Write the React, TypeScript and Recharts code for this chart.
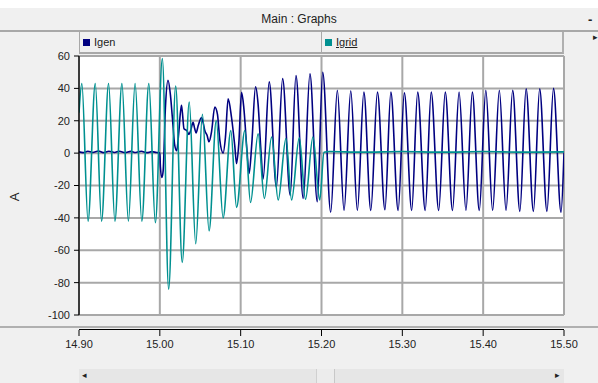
import React from 'react';
import { LineChart, Line, XAxis, YAxis, CartesianGrid } from 'recharts';

const TITLE = 'Main : Graphs';
const SERIES_NAMES = ['Igen', 'Igrid'];
const SERIES_COLORS = ['#000080', '#009090'];
const Y_LABEL = 'A';
const X_TICKS = [14.9, 15.0, 15.1, 15.2, 15.3, 15.4, 15.5];
const Y_TICKS = [-100, -80, -60, -40, -20, 0, 20, 40, 60];

const IGEN_T = [
  14.9, 14.905, 14.911, 14.917, 14.924, 14.93, 14.937, 14.944, 14.95, 14.957, 14.964, 14.97, 14.977, 14.984, 14.99, 14.996,
  15.0, 15.0007, 15.0026, 15.0041, 15.0069, 15.0101, 15.0131, 15.0155, 15.0184, 15.0209, 15.0233, 15.0267, 15.0279, 15.0299,
  15.0333, 15.0361, 15.0382, 15.0411, 15.0432, 15.0448, 15.0475, 15.0515, 15.0535, 15.0556, 15.0584, 15.0609, 15.0639,
  15.068, 15.0713, 15.0742, 15.0783, 15.0812, 15.0845, 15.0887, 15.0928, 15.0949, 15.0977, 15.1011, 15.1039, 15.1076,
  15.1105, 15.1138, 15.1184, 15.1216, 15.125, 15.1278, 15.1353, 15.1442, 15.1519, 15.1613, 15.1684, 15.1774, 15.1857,
  15.1948, 15.2015, 15.2114, 15.2196, 15.2279, 15.2362, 15.2444, 15.2524, 15.261, 15.2692, 15.2785, 15.2858, 15.2948,
  15.3025, 15.3116, 15.319, 15.3283, 15.3357, 15.345, 15.3531, 15.3621, 15.3702, 15.3787, 15.3866, 15.3952, 15.4033,
  15.4117, 15.42, 15.4283, 15.4365, 15.4454, 15.4531, 15.4622, 15.4699, 15.4789, 15.487, 15.4963, 15.5,
];
const IGEN_V = [
  0.8, 0.3, 1.2, 0.4, 1.3, 0.3, 1.2, 0.4, 1.2, 0.3, 1.1, 0.4, 1.2, 0.3, 0.9, 0.4,
  0.2, -8.5, -15, -11, 28, 45, 36, 22, 5, 1.5, 12, 29.5, 25, 15,
  14, 11.5, 14, 19, 15, 12.5, 17, 22, 19, 14, 11, 7, 13,
  28.5, 24, 8, 0, 10, 33.5, 22, 4, -6.5, 6, 37.5, 28, 3,
  -12.5, 6, 41, 30, 2, -16, 44, -21, 46, -26, 48, -28, 49,
  -30, 50, -36.5, 38.8, -35.4, 38.5, -35.4, 37.7, -35.4, 37.7, -35.0, 37.7, -35.4,
  37.2, -35.4, 37.7, -35.4, 37.7, -35.4, 37.7, -35.4, 37.7, -35.4, 37.7, -35.4, 38.8,
  -35.4, 38.8, -35.4, 38.8, -36.0, 39.8, -36.0, 39.8, -36.0, 40.0, -36.5, 0.5,
];

const IGRID_T = [
  14.9, 14.9035, 14.9112, 14.9201, 14.9279, 14.9366, 14.9444, 14.9531, 14.9611, 14.9694, 14.9777, 14.9864, 14.9945,
  15.0031, 15.0109, 15.0196, 15.0277, 15.0364, 15.0444, 15.0527, 15.0609, 15.0698, 15.0783, 15.0878, 15.0949, 15.1052,
  15.1122, 15.1216, 15.1293, 15.1383, 15.1464, 15.156, 15.163, 15.1725, 15.1802, 15.1894, 15.1978, 15.2031, 15.21,
  15.25, 15.3, 15.35, 15.4, 15.45, 15.5,
];
const IGRID_V = [
  25, 43, -42, 43, -42, 43, -42, 43, -42, 43, -42, 43, -43,
  58.5, -84, 41.5, -67.5, 31.5, -56, 24, -48, 20, -40, 14, -33.5, 14,
  -30.5, 12, -28, 10, -29, 9, -29, 9.5, -28.5, 10, -29, 0.5, 1.0,
  0.6, 1.0, 0.6, 1.0, 0.6, 0.8,
];

const igenData = IGEN_T.map((t, i) => ({ t, v: IGEN_V[i] }));
const igridData = IGRID_T.map((t, i) => ({ t, v: IGRID_V[i] }));

const FONT = '"Liberation Sans", Arial, sans-serif';

function XTick(props: any) {
  const { x, y, payload } = props;
  return (
    <g>
      <line x1={x} x2={x} y1={y + 15} y2={y + 21} stroke="#000" strokeWidth={1} />
      <text x={x} y={y + 33} textAnchor="middle" fontSize={11} fill="#222" fontFamily={FONT}>
        {Number(payload.value).toFixed(2)}
      </text>
    </g>
  );
}

function YLabel() {
  return (
    <text x={14} y={197} transform="rotate(-90 14 197)" textAnchor="middle" dominantBaseline="central" fontSize={13} fill="#222" fontFamily={FONT}>
      {Y_LABEL}
    </text>
  );
}

export default function App() {
  return (
    <div style={{ position: 'fixed', left: 0, top: 0, width: 598, height: 383, background: '#f0f0f0', overflow: 'hidden', fontFamily: FONT }}>
      <div style={{ position: 'absolute', left: 0, top: 0, width: 598, height: 8, background: '#fff' }} />
      <div style={{ position: 'absolute', left: 0, top: 8, width: 598, height: 22, background: '#f0f0f0', borderBottom: '2px solid #a8a8a8', fontSize: 12, color: '#222', textAlign: 'center', lineHeight: '22px' }}>
        {TITLE}
      </div>
      <div style={{ position: 'absolute', left: 588, top: 12, fontSize: 13, fontWeight: 'bold', color: '#222' }}>-</div>
      <div style={{ position: 'absolute', left: 593, top: 32, fontSize: 9, color: '#222' }}>▸</div>

      <div style={{ position: 'absolute', left: 0, top: 0 }}>
        <LineChart width={598} height={383} margin={{ top: 56, right: 34, bottom: 38, left: 0 }}>
          <CartesianGrid stroke="#a8a8a8" strokeWidth={2} fill="#ffffff" />
          <XAxis
            dataKey="t"
            type="number"
            domain={[14.9, 15.5]}
            ticks={X_TICKS}
            allowDataOverflow
            axisLine={false}
            tickLine={false}
            tickSize={0}
            tickMargin={0}
            height={30}
            tick={<XTick />}
            interval={0}
          />
          <YAxis
            type="number"
            domain={[-100, 60]}
            ticks={Y_TICKS}
            width={79}
            axisLine={{ stroke: '#000', strokeWidth: 1.3 }}
            tickLine={{ stroke: '#000' }}
            tickSize={5}
            tickMargin={4}
            tick={{ fontSize: 11, fill: '#222', fontFamily: FONT }}
            interval={0}
            label={<YLabel />}
          />
          <Line data={igenData} dataKey="v" name={SERIES_NAMES[0]} type="monotone" stroke={SERIES_COLORS[0]} strokeWidth={1.6} dot={false} isAnimationActive={false} />
          <Line data={igridData} dataKey="v" name={SERIES_NAMES[1]} type="monotone" stroke={SERIES_COLORS[1]} strokeWidth={1.6} dot={false} isAnimationActive={false} />
        </LineChart>
      </div>

      <div style={{ position: 'absolute', left: 79, top: 32, width: 485, height: 22, background: '#f0f0f0', borderLeft: '1px solid #a8a8a8', borderRight: '2px solid #b0b0b0', borderBottom: '2px solid #a8a8a8', boxSizing: 'border-box' }}>
        <div style={{ position: 'absolute', left: 241, top: 0, width: 1, height: 20, background: '#a8a8a8' }} />
        {SERIES_NAMES.map((n, i) => (
          <div key={n} style={{ position: 'absolute', left: i === 0 ? 3 : 245, top: 4, display: 'flex', alignItems: 'center', fontSize: 11, color: '#222' }}>
            <span style={{ display: 'inline-block', width: 7, height: 7, background: SERIES_COLORS[i], marginRight: 4 }} />
            <span style={{ textDecoration: i === 1 ? 'underline' : 'none' }}>{n}</span>
          </div>
        ))}
      </div>

      <div style={{ position: 'absolute', left: 0, top: 326, width: 598, height: 2, background: '#b0b0b0' }} />
      <div style={{ position: 'absolute', left: 79, top: 329, width: 485, height: 1, background: '#000' }} />

      <div style={{ position: 'absolute', left: 79, top: 369, width: 485, height: 14, background: '#e6e6e6', boxSizing: 'border-box' }}>
        <div style={{ position: 'absolute', left: 3, top: 1, fontSize: 9, color: '#222' }}>◂</div>
        <div style={{ position: 'absolute', left: 237, top: 0, width: 17, height: 14, background: '#ececec', borderLeft: '1px solid #d0d0d0', borderRight: '1px solid #c8c8c8' }} />
        <div style={{ position: 'absolute', left: 476, top: 1, fontSize: 9, color: '#222' }}>▸</div>
      </div>
    </div>
  );
}
